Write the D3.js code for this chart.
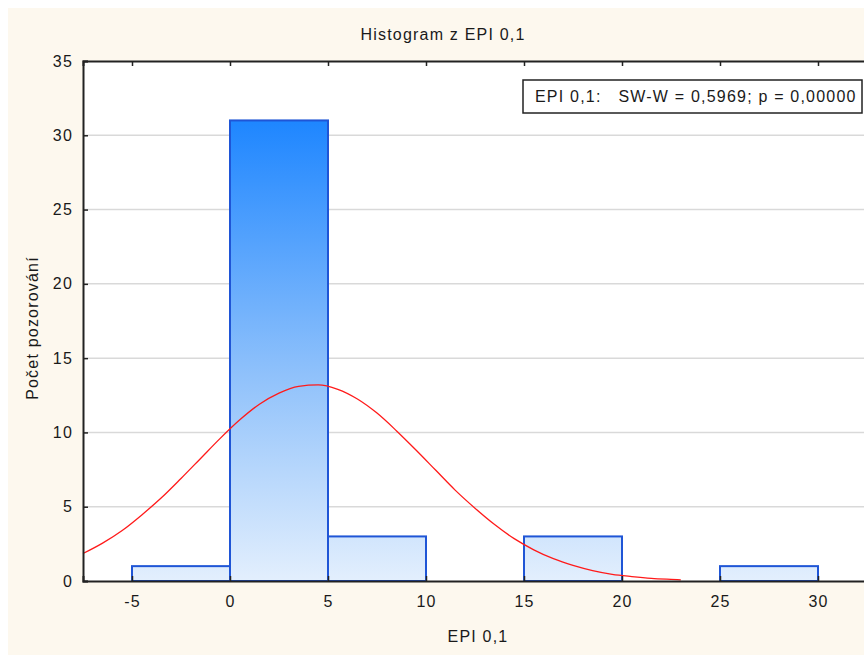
<!DOCTYPE html>
<html>
<head>
<meta charset="utf-8">
<script src="https://cdn.jsdelivr.net/npm/d3@7"></script>
<style>
  body { margin: 0; background: #ffffff; }
  text { font-family: "Liberation Sans", Arial, sans-serif; fill: #1a1a1a; letter-spacing: 1.2px; }
</style>
</head>
<body>
<div id="chart"></div>
<script>
// histogram bins (lower edge, upper edge) and counts
var binStart = [-5, 0, 5, 10, 15, 20, 25];
var binEnd = [0, 5, 10, 15, 20, 25, 30];
var counts = [1, 31, 3, 0, 3, 0, 1];

// fitted normal curve
var curveX = [-7.5, -6.5, -5.5, -4.5, -3.5, -2.5, -1.5, -0.5, 0.5, 1.5, 2.5, 3.5, 4.5, 5.5, 6.5, 7.5,
  8.5, 9.5, 10.5, 11.5, 12.5, 13.5, 14.5, 15.5, 16.5, 17.5, 18.5, 19.5, 20.5, 21.5, 22.5, 23];
var curveY = [1.85, 2.55, 3.4, 4.45, 5.6, 6.9, 8.25, 9.6, 10.85, 11.9, 12.65, 13.1, 13.2, 12.9, 12.25, 11.3,
  10.1, 8.8, 7.45, 6.1, 4.9, 3.8, 2.85, 2.1, 1.5, 1.05, 0.7, 0.45, 0.3, 0.18, 0.11, 0.08];

var xTicks = [-5, 0, 5, 10, 15, 20, 25, 30];
var yTicks = [0, 5, 10, 15, 20, 25, 30, 35];

var svgWidth = 864;
var svgHeight = 655;

var svg = d3.select("#chart")
  .append("svg")
  .attr("width", svgWidth)
  .attr("height", svgHeight);

// beige panel
svg.append("rect")
  .attr("x", 8)
  .attr("y", 8)
  .attr("width", svgWidth - 8)
  .attr("height", svgHeight - 8)
  .attr("fill", "#fdf8ee");

var xScale = d3.scaleLinear()
  .domain([-7.5, 32.5])
  .range([83, 867]);

var yScale = d3.scaleLinear()
  .domain([0, 35])
  .range([581, 61]);

var plotL = xScale.range()[0], plotR = xScale.range()[1];
var plotT = yScale.range()[1], plotB = yScale.range()[0];

// gradient for bars
var defs = svg.append("defs");
var grad = defs.append("linearGradient")
  .attr("id", "barGrad")
  .attr("gradientUnits", "userSpaceOnUse")
  .attr("x1", 0).attr("x2", 0)
  .attr("y1", yScale(31)).attr("y2", yScale(0));
grad.append("stop").attr("offset", "0%").attr("stop-color", "#1e86ff");
grad.append("stop").attr("offset", "55%").attr("stop-color", "#8fc1fb");
grad.append("stop").attr("offset", "100%").attr("stop-color", "#e3effd");

// white plot area
svg.append("rect")
  .attr("x", plotL)
  .attr("y", plotT)
  .attr("width", plotR - plotL)
  .attr("height", plotB - plotT)
  .attr("fill", "#ffffff");

// gridlines
svg.append("g")
  .selectAll("line")
  .data(yTicks.filter(d => d > 0 && d < 35))
  .enter()
  .append("line")
  .attr("x1", plotL)
  .attr("x2", plotR)
  .attr("y1", d => yScale(d))
  .attr("y2", d => yScale(d))
  .attr("stroke", "#d9d9d9")
  .attr("stroke-width", 1.5);

// bars
var bins = counts.map(function (c, i) {
  return { x0: binStart[i], x1: binEnd[i], n: c };
}).filter(d => d.n > 0);

svg.append("g")
  .selectAll("rect")
  .data(bins)
  .enter()
  .append("rect")
  .attr("x", d => xScale(d.x0))
  .attr("y", d => yScale(d.n))
  .attr("width", d => xScale(d.x1) - xScale(d.x0))
  .attr("height", d => yScale(0) - yScale(d.n))
  .attr("fill", "url(#barGrad)")
  .attr("stroke", "#1f55d6")
  .attr("stroke-width", 2);

// normal curve
var line = d3.line()
  .x(d => xScale(d[0]))
  .y(d => yScale(d[1]))
  .curve(d3.curveMonotoneX);

svg.append("path")
  .datum(curveX.map((x, i) => [x, curveY[i]]))
  .attr("d", line)
  .attr("fill", "none")
  .attr("stroke", "#ff1a1a")
  .attr("stroke-width", 1.3);

// axes (frame + inner ticks)
var bottomAxis = d3.axisBottom(xScale).tickValues(xTicks).tickSize(-5).tickPadding(15);
var topAxis = d3.axisTop(xScale).tickValues(xTicks).tickSize(-5).tickFormat("");
var leftAxis = d3.axisLeft(yScale).tickValues(yTicks).tickSize(-5).tickPadding(10);

var gB = svg.append("g").attr("transform", `translate(0, ${plotB})`).call(bottomAxis);
var gT = svg.append("g").attr("transform", `translate(0, ${plotT})`).call(topAxis);
var gL = svg.append("g").attr("transform", `translate(${plotL}, 0)`).call(leftAxis);

[gB, gT, gL].forEach(function (g) {
  g.select(".domain").attr("stroke", "#222").attr("stroke-width", 2);
  g.selectAll(".tick line").attr("stroke", "#222").attr("stroke-width", 1.5);
  g.selectAll(".tick text")
    .style("font-family", "'Liberation Sans', Arial, sans-serif")
    .style("font-size", "16px")
    .attr("fill", "#1a1a1a");
});
gB.selectAll(".tick text").text(d => d < 0 ? "-" + Math.abs(d) : d);

// legend box
svg.append("rect")
  .attr("x", 523)
  .attr("y", 80)
  .attr("width", 339)
  .attr("height", 33)
  .attr("fill", "#ffffff")
  .attr("stroke", "#222")
  .attr("stroke-width", 1.5);

svg.append("text")
  .attr("x", 535)
  .attr("y", 102)
  .style("font-size", "16px")
  .attr("xml:space", "preserve")
  .text("EPI 0,1:   SW-W = 0,5969; p = 0,00000");

// titles
svg.append("text")
  .attr("x", 443)
  .attr("y", 40)
  .attr("text-anchor", "middle")
  .style("font-size", "16px")
  .text("Histogram z EPI 0,1");

svg.append("text")
  .attr("x", 478)
  .attr("y", 642)
  .attr("text-anchor", "middle")
  .style("font-size", "16px")
  .text("EPI 0,1");

svg.append("text")
  .attr("transform", "translate(38, 328) rotate(-90)")
  .attr("text-anchor", "middle")
  .style("font-size", "16px")
  .text("Počet pozorování");
</script>
</body>
</html>
